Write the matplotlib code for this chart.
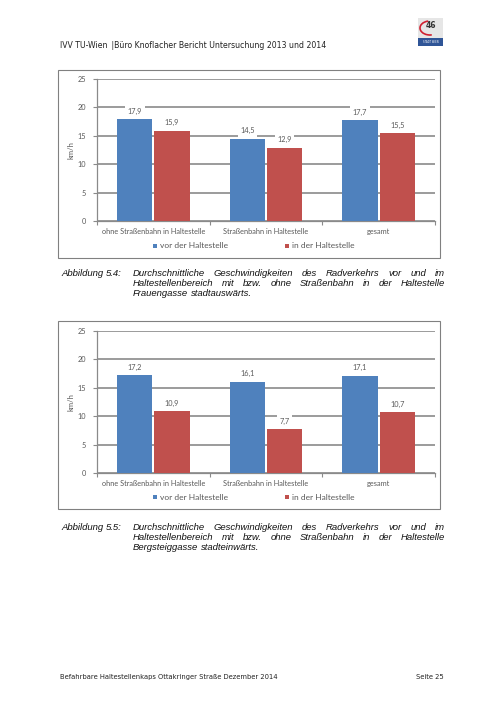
import matplotlib
matplotlib.use("Agg")
import matplotlib.pyplot as plt
from matplotlib.patches import Rectangle, Arc
import numpy as np

W, H = 504, 713

categories = ["ohne Straßenbahn in Haltestelle", "Straßenbahn in Haltestelle", "gesamt"]
series_names = ["vor der Haltestelle", "in der Haltestelle"]
chart1_vor = [17.9, 14.5, 17.7]
chart1_in = [15.9, 12.9, 15.5]
chart2_vor = [17.2, 16.1, 17.1]
chart2_in = [10.9, 7.7, 10.7]
yticks = [0, 5, 10, 15, 20, 25]

header = "IVV TU-Wien \u2009|Büro Knoflacher Bericht Untersuchung 2013 und 2014"
footer_left = "Befahrbare Haltestellenkaps Ottakringer Straße Dezember 2014"
footer_right = "Seite 25"
caption1 = ["Abbildung 5.4:",
            "Durchschnittliche Geschwindigkeiten des Radverkehrs vor und im",
            "Haltestellenbereich mit bzw. ohne Straßenbahn in der Haltestelle",
            "Frauengasse stadtauswärts."]
caption2 = ["Abbildung 5.5:",
            "Durchschnittliche Geschwindigkeiten des Radverkehrs vor und im",
            "Haltestellenbereich mit bzw. ohne Straßenbahn in der Haltestelle",
            "Bergsteiggasse stadteinwärts."]

BLUE = "#4F81BD"
RED = "#C0504D"
GRAY_T = "#595959"
GRID = "#8a8a8a"
CHART_FONT = "Lato"

fig = plt.figure(figsize=(W / 100, H / 100), dpi=100)
fig.patch.set_facecolor("white")


def fx(x):
    return x / W


def fy(y):
    return 1 - y / H


def add_chart(top_frame, bottom_frame, ax_top, ax_bottom, vor, inn, leg_y):
    fig.patches.append(Rectangle((fx(58), fy(bottom_frame)), fx(440) - fx(58),
                                 fy(top_frame) - fy(bottom_frame),
                                 transform=fig.transFigure, fill=False,
                                 edgecolor="#808080", linewidth=0.8))
    ax = fig.add_axes([fx(97), fy(ax_bottom), (435 - 97) / W, (ax_bottom - ax_top) / H])
    x = np.arange(len(categories))
    w = 0.315
    b1 = ax.bar(x - 0.165, vor, width=w, color=BLUE, zorder=3)
    b2 = ax.bar(x + 0.165, inn, width=w, color=RED, zorder=3)
    for bars, vals in ((b1, vor), (b2, inn)):
        for r, v in zip(bars, vals):
            ax.annotate(f"{v:.1f}".replace(".", ","),
                        (r.get_x() + r.get_width() / 2, r.get_height()),
                        xytext=(0, 3.2), textcoords="offset points",
                        ha="center", va="bottom", fontsize=5.3,
                        family=CHART_FONT, color=GRAY_T, zorder=4,
                        bbox=dict(boxstyle="square,pad=0.35", fc="white", ec="none"))
    ax.set_xlim(-0.5, 2.5)
    ax.set_ylim(0, 25)
    ax.set_yticks(yticks)
    ax.set_yticklabels([str(t) for t in yticks], family=CHART_FONT, fontsize=5.3, color=GRAY_T)
    ax.yaxis.grid(True, color=GRID, linewidth=1.2, zorder=0)
    ax.set_axisbelow(True)
    ax.set_xticks(x)
    ax.set_xticklabels(categories, family=CHART_FONT, fontsize=5.3, color=GRAY_T)
    ax.set_xticks([-0.5, 0.5, 1.5, 2.5], minor=True)
    ax.tick_params(axis="x", which="major", length=0, pad=5)
    ax.tick_params(axis="x", which="minor", length=3, color=GRID, width=0.8)
    ax.tick_params(axis="y", length=3, color=GRID, width=0.8, pad=5)
    for s in ("top", "right"):
        ax.spines[s].set_visible(False)
    for s in ("left", "bottom"):
        ax.spines[s].set_color(GRID)
        ax.spines[s].set_linewidth(0.9)
    ax.set_ylabel("km/h", family=CHART_FONT, fontsize=5.5, color=GRAY_T, labelpad=2)
    # legend
    for cx, col, lab in ((153, BLUE, series_names[0]), (285, RED, series_names[1])):
        fig.patches.append(Rectangle((fx(cx), fy(leg_y + 2)), 4 / W, 4 / H,
                                     transform=fig.transFigure, fc=col, ec="none"))
        fig.text(fx(cx + 7), fy(leg_y), lab, ha="left", va="center",
                 family=CHART_FONT, fontsize=6.0, color=GRAY_T)
    return ax


add_chart(70, 258, 79, 221, chart1_vor, chart1_in, 246)
add_chart(321, 509, 331, 473, chart2_vor, chart2_in, 497)

# header / footer
fig.text(fx(60), fy(45), header, ha="left", va="center", family="DejaVu Sans",
         fontsize=5.6, color="#222222")
fig.text(fx(60), fy(677), footer_left, ha="left", va="center", family="DejaVu Sans",
         fontsize=4.9, color="#222222")
fig.text(fx(444), fy(677), footer_right, ha="right", va="center", family="DejaVu Sans",
         fontsize=4.9, color="#222222")

# logo
fig.patches.append(Rectangle((fx(418), fy(38)), 25 / W, 20 / H, transform=fig.transFigure,
                             fc="#e6e6e6", ec="none"))
fig.patches.append(Rectangle((fx(418), fy(46)), 25 / W, 8 / H, transform=fig.transFigure,
                             fc="#2f5597", ec="none"))
fig.patches.append(Arc((fx(430), fy(28)), 20 / W, 14 / H, theta1=110, theta2=290,
                       transform=fig.transFigure, color="#d02030", lw=1.2))
fig.text(fx(431), fy(25), "46", ha="center", va="center", fontsize=5.5,
         fontweight="bold", color="#333333", family="DejaVu Sans")
fig.text(fx(430.5), fy(42), "STADT WIEN", ha="center", va="center", fontsize=1.8,
         color="white", family="DejaVu Sans")

# caption typesetting (justified italic text)
CAP_KW = dict(family="Liberation Sans", style="italic", fontsize=6.8, color="#111111")
renderer = fig.canvas.get_renderer()


def set_line(text, x0, x1, y, justify):
    words = text.split()
    texts = [fig.text(0, fy(y), wd, ha="left", va="baseline", **CAP_KW) for wd in words]
    widths = [t.get_window_extent(renderer).width for t in texts]
    if justify and len(words) > 1:
        gap = ((x1 - x0) - sum(widths)) / (len(words) - 1)
    else:
        gap = 2.8
    pos = x0
    for t, wdt in zip(texts, widths):
        t.set_x(fx(pos))
        pos += wdt + gap


def caption(lines, ys):
    set_line(lines[0], 61, 122, ys[0], False)
    set_line(lines[1], 133, 445, ys[0], True)
    set_line(lines[2], 133, 445, ys[1], True)
    set_line(lines[3], 133, 445, ys[2], False)


caption(caption1, [275.5, 285.5, 295.5])
caption(caption2, [529.5, 539.5, 549.5])

fig.savefig("out.png", dpi=100, facecolor="white")
